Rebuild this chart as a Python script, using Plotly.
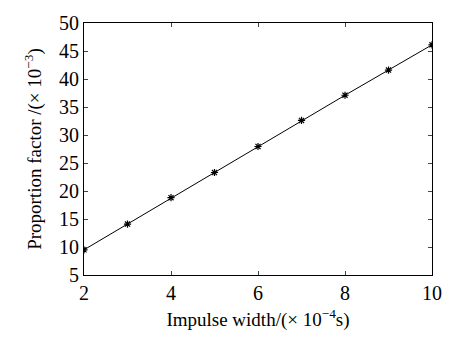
import plotly.graph_objects as go

impulse_width = [2, 3, 4, 5, 6, 7, 8, 9, 10]
proportion_factor = [9.5, 14.1, 18.8, 23.3, 27.95, 32.6, 37.1, 41.6, 46.1]

x_ticks = [2, 4, 6, 8, 10]
y_ticks = [5, 10, 15, 20, 25, 30, 35, 40, 45, 50]

fig = go.Figure()
fig.add_trace(go.Scatter(
    x=impulse_width, y=proportion_factor,
    mode="lines+markers",
    line=dict(color="black", width=1),
    marker=dict(symbol="asterisk", size=6, color="black",
                line=dict(color="black", width=1.2)),
    cliponaxis=True,
))

font = dict(family="Liberation Serif, Times New Roman, serif", size=19, color="black")

fig.update_layout(
    width=454, height=338,
    margin=dict(l=84, r=17, t=15, b=57),
    paper_bgcolor="white", plot_bgcolor="white",
    showlegend=False,
    font=font,
)
fig.update_xaxes(
    range=[2, 10], tickvals=x_ticks, ticks="inside", ticklen=4,
    showline=True, linecolor="black", linewidth=1, mirror="ticks",
    showgrid=False, zeroline=False, tickfont=dict(size=20),
    title=dict(text="Impulse width/(× 10<sup>−4</sup>s)", font=dict(size=19), standoff=9),
)
fig.update_yaxes(
    range=[5, 50], tickvals=y_ticks, ticks="inside", ticklen=4,
    showline=True, linecolor="black", linewidth=1, mirror="ticks",
    showgrid=False, zeroline=False, tickfont=dict(size=20),
    title=dict(text="Proportion factor /(× 10<sup>−3</sup>)", font=dict(size=19), standoff=12),
)

fig.write_html("out.html")
